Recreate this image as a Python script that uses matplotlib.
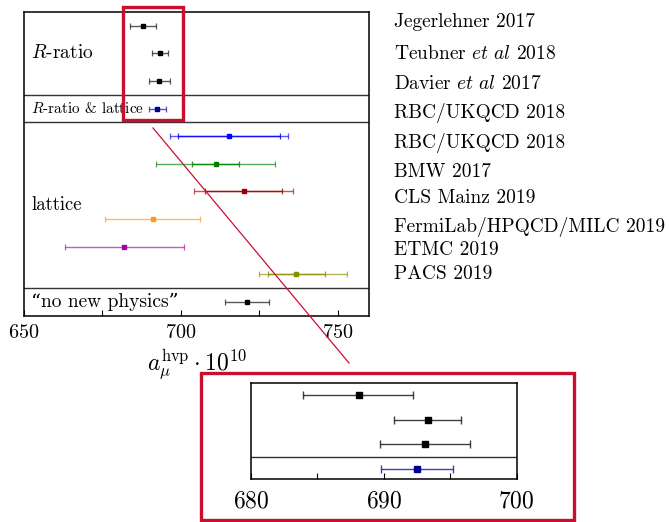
import matplotlib
matplotlib.use('Agg')
import matplotlib.pyplot as plt
from matplotlib.patches import Rectangle
from matplotlib.lines import Line2D
from matplotlib.ticker import MultipleLocator

plt.rcParams['font.family'] = ['cmr10', 'DejaVu Serif']
plt.rcParams['mathtext.fontset'] = 'cm'
plt.rcParams['axes.formatter.use_mathtext'] = True

# data, rows from top to bottom
names = ["Jegerlehner 2017", r"Teubner $et\ al$ 2018", r"Davier $et\ al$ 2017",
         "RBC/UKQCD 2018", "RBC/UKQCD 2018", "BMW 2017", "CLS Mainz 2019",
         "FermiLab/HPQCD/MILC 2019", "ETMC 2019", "PACS 2019"]
central = [688.1, 693.3, 693.1, 692.5, 715.4, 711.1, 720.0, 691.0, 682.0, 736.8, 721.1]
err_lo = [4.2, 2.5, 3.4, 2.7, 18.7, 18.9, 15.9, 15.2, 19.0, 11.9, 6.9]
err_hi = [4.1, 2.5, 3.4, 2.7, 18.7, 18.9, 15.9, 15.2, 19.0, 16.1, 6.9]
# inner (statistical) errors of the lattice rows, None = not shown
stat_lo = [None, None, None, None, 16.3, 7.5, 12.4, None, None, 8.9, None]
stat_hi = [None, None, None, None, 16.3, 7.5, 12.4, None, None, 9.1, None]
colors = ['black', 'black', 'black', '#000090', '#0000ff', '#008000', '#9b0000',
          '#ff9a10', '#a800a8', '#8c8c00', 'black']
group_labels = [r"$R$-ratio", r"$R$-ratio & lattice", "lattice", "\u201cno new physics\u201d"]
group_rows = [1, 3, 6.5, 10]
group_sizes = [14, 11, 13.5, 14]
separators = [2.5, 3.5, 9.5]
zoom_rows = [0, 1, 2, 3]

W, H = 669, 522
def fx(x):
    return x / W
def fy(y):
    return 1 - y / H

fig = plt.figure(figsize=(W / 100, H / 100), dpi=100)
ax = fig.add_axes([fx(24), fy(315.7), fx(345), 303.7 / H])

rows = list(range(len(central)))
for i in rows:
    c = colors[i]
    ax.errorbar(central[i], i, xerr=[[err_lo[i]], [err_hi[i]]], fmt='none',
                ecolor=c, elinewidth=1.0, capsize=2.2, capthick=0.9, alpha=0.65)
    if stat_lo[i] is not None:
        ax.errorbar(central[i], i, xerr=[[stat_lo[i]], [stat_hi[i]]], fmt='none',
                    ecolor=c, elinewidth=1.0, capsize=2.2, capthick=0.9, alpha=0.8)
    ax.plot(central[i], i, 's', color=c, markersize=3.2)

for s in separators:
    ax.axhline(s, color='#333333', lw=1.0)
for lab, r, fs in zip(group_labels, group_rows, group_sizes):
    ax.text(652.3, r, lab, fontsize=fs, va='center', ha='left')

ax.set_xlim(650, 760)
ax.set_ylim(10.5, -0.5)
ax.set_yticks([])
ax.xaxis.set_major_locator(MultipleLocator(50))
ax.xaxis.set_minor_locator(MultipleLocator(25))
ax.tick_params(axis='x', which='both', direction='in', length=4, width=0.8,
               labelsize=14.5, pad=6)
for sp in ax.spines.values():
    sp.set_linewidth(1.1)
ax.set_xlabel(r"$a_\mu^{\rm hvp}\cdot 10^{10}$", fontsize=17, labelpad=4)

label_base = [26.8, 59.3, 88.8, 118.3, 148.0, 176.7, 203.0, 231.5, 255.0, 279.0]
for lab, yb in zip(names, label_base):
    fig.text(fx(394), fy(yb), lab, fontsize=14, va='baseline', ha='left')

red = '#c8102e'
fig.add_artist(Rectangle((fx(123), fy(119.5)), fx(183 - 123), (119.5 - 7.5) / H,
                         transform=fig.transFigure, fill=False, ec=red, lw=2.4))
fig.add_artist(Line2D([fx(153), fx(349)], [fy(128), fy(363)],
                      transform=fig.transFigure, color=red, lw=0.9))
fig.add_artist(Rectangle((fx(200.5), fy(519.5)), fx(573.5 - 200.5), (519.5 - 373) / H,
                         transform=fig.transFigure, fill=False, ec=red, lw=2.4))

# zoomed inset
axz = fig.add_axes([fx(251), fy(479), fx(265.7), 96.3 / H])
for j, i in enumerate(zoom_rows):
    c = colors[i]
    axz.errorbar(central[i], j, xerr=[[err_lo[i]], [err_hi[i]]], fmt='none',
                 ecolor=c, elinewidth=1.0, capsize=3, capthick=1.0, alpha=0.75)
    axz.plot(central[i], j, 's', color=c, markersize=4.5)
axz.axhline(2.5, color='#333333', lw=1.0)
axz.set_xlim(680, 700)
axz.set_ylim(3.4, -0.5)
axz.set_yticks([])
axz.xaxis.set_major_locator(MultipleLocator(10))
axz.xaxis.set_minor_locator(MultipleLocator(5))
axz.tick_params(axis='x', which='both', direction='in', length=4, width=0.8,
                labelsize=17, pad=8)
for sp in axz.spines.values():
    sp.set_linewidth(1.1)

fig.savefig('out.png', dpi=100)
